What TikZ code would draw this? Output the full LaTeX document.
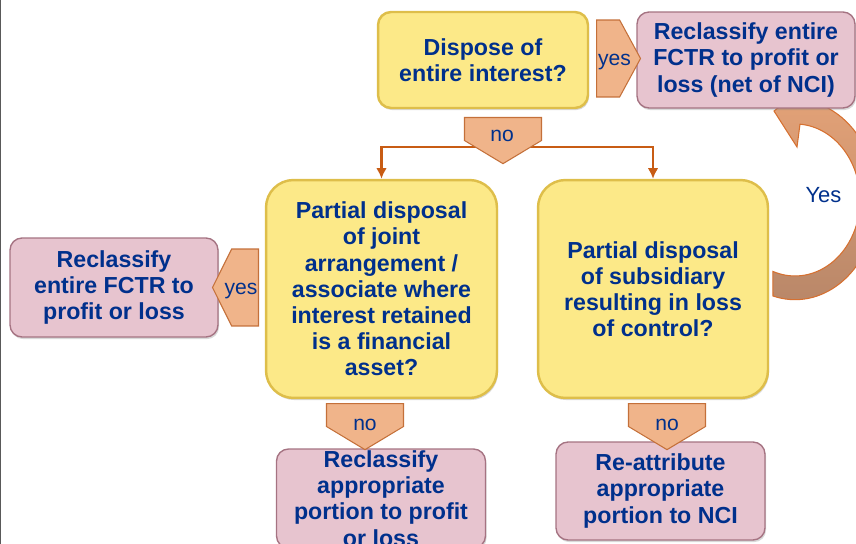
\documentclass[tikz,border=0pt]{standalone}
\usepackage{fontspec}
\setmainfont{Liberation Sans}
\usepackage{tikz}
\usetikzlibrary{shapes,arrows,arrows.meta,positioning,shadows}
\usepackage{xcolor}

\definecolor{navy}{RGB}{0,48,140}
\definecolor{sand}{RGB}{252,233,136}
\definecolor{sandedge}{RGB}{222,190,74}
\definecolor{rose}{RGB}{231,196,207}
\definecolor{roseedge}{RGB}{165,115,130}
\definecolor{peach}{RGB}{240,180,138}
\definecolor{peachedge}{RGB}{196,112,58}
\definecolor{rust}{RGB}{200,92,20}
\definecolor{looptop}{RGB}{229,163,120}
\definecolor{loopbottom}{RGB}{183,134,104}
\definecolor{loopedge}{RGB}{214,112,48}

\begin{document}
\begin{tikzpicture}[x=0.02cm, y=-0.02cm,
    question/.style={draw=sandedge, fill=sand, line width=1.4pt, rounded corners=0.26cm,
        align=center, text=navy, inner sep=0pt, font=\bfseries\fontsize{13.2}{14.9}\selectfont,
        drop shadow={shadow xshift=0.6pt, shadow yshift=-1.2pt, opacity=0.3}},
    outcome/.style={question, draw=roseedge, fill=rose, line width=0.8pt, rounded corners=0.24cm},
    chevron/.style={shape=signal, draw=peachedge, fill=peach, line width=0.6pt, inner sep=0pt},
    tag/.style={text=navy, inner sep=0pt, anchor=base, font=\fontsize{12}{14}\selectfont},
    branch/.style={draw=rust, line width=1.2pt, -{Latex[length=6pt, width=6pt]}},
    loop/.style={draw=loopedge, line width=0.6pt, top color=looptop, bottom color=loopbottom}
]
    \useasboundingbox (0,0) rectangle (856,544);
    \draw[gray!70!black, line width=1.2pt] (0,0) -- (0,544);

    \coordinate (loop_tail) at (773,296);
    \path[loop] (loop_tail) arc[start angle=105.6, end angle=-85.6, x radius=82, y radius=100]
        -- (804,88) -- (774,111) -- (797,147) -- (800,124.2)
        arc[start angle=-85.6, end angle=110, x radius=65, y radius=76] -- cycle;

    \node[question, minimum width=4.2cm, minimum height=1.92cm] (dispose) at (483,60) {Dispose of\\entire interest?};
    \node[outcome, minimum width=4.36cm, minimum height=1.92cm] (reclass_top) at (746,60) {Reclassify entire\\FCTR to profit or\\loss (net of NCI)};
    \node[question, rounded corners=0.55cm, minimum width=4.62cm, minimum height=4.36cm] (joint_q) at (381.5,289) {Partial disposal\\of joint\\arrangement /\\associate where\\interest retained\\is a financial\\asset?};
    \node[question, rounded corners=0.55cm, minimum width=4.6cm, minimum height=4.36cm] (sub_q) at (653,289) {Partial disposal\\of subsidiary\\resulting in loss\\of control?};
    \node[outcome, minimum width=4.16cm, minimum height=1.98cm] (reclass_left) at (114,287.5) {Reclassify\\entire FCTR to\\profit or loss};
    \node[outcome, minimum width=4.18cm, minimum height=1.98cm] (reclass_bottom) at (381,498.5) {Reclassify\\appropriate\\portion to profit\\or loss};
    \node[outcome, minimum width=4.18cm, minimum height=1.96cm] (reattribute) at (660.5,491) {Re-attribute\\appropriate\\portion to NCI};

    \coordinate (fork) at (503,147);
    \draw[branch] (fork) -| (joint_q.north);
    \draw[branch] (fork) -| (sub_q.north);

    \node[chevron, signal to=east, signal pointer angle=123, minimum width=0.88cm, minimum height=1.54cm, anchor=west] (yes_top) at (596,58.5) {};
    \node[chevron, signal to=south, signal pointer angle=118, minimum width=1.54cm, minimum height=0.46cm, anchor=north] (no_top) at (503,117) {};
    \node[chevron, signal to=west, signal pointer angle=127, minimum width=0.92cm, minimum height=1.54cm, anchor=east] (yes_left) at (259,287.5) {};
    \node[chevron, signal to=south, signal pointer angle=118, minimum width=1.54cm, minimum height=0.46cm, anchor=north] (no_left) at (365,403) {};
    \node[chevron, signal to=south, signal pointer angle=118, minimum width=1.54cm, minimum height=0.46cm, anchor=north] (no_right) at (667,403) {};

    \node[tag] (yes_top_txt) at (614.5,66) {yes};
    \node[tag] (no_top_txt) at (502,142) {no};
    \node[tag] (yes_left_txt) at (241,295) {yes};
    \node[tag] (no_left_txt) at (365,430) {no};
    \node[tag] (no_right_txt) at (667,430) {no};
    \node[tag, font=\fontsize{12.5}{14}\selectfont] (loop_txt) at (823.5,202) {Yes};
\end{tikzpicture}
\end{document}
